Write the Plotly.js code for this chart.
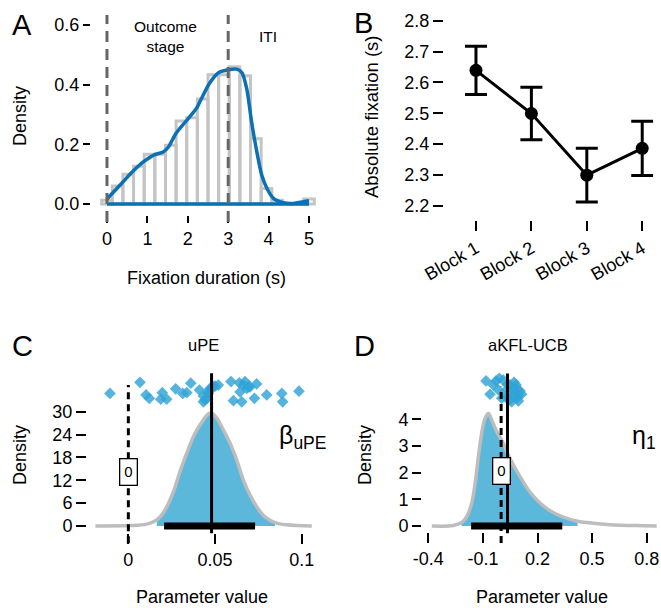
<!DOCTYPE html>
<html><head><meta charset="utf-8">
<script src="https://cdn.plot.ly/plotly-3.0.1.min.js"></script>
<style>html,body{margin:0;padding:0;background:#fff}#chart{width:661px;height:608px}</style>
</head><body><div id="chart"></div>
<script>
// ---------- Panel A data ----------
var histBinWidth = 5 / 19;
var histCenters = [0, 0.263, 0.526, 0.789, 1.053, 1.316, 1.579, 1.842, 2.105, 2.368, 2.632, 2.895, 3.158, 3.421, 3.684, 3.947, 4.211, 4.474, 4.737, 5];
var histDensity = [0.013, 0.06, 0.10, 0.127, 0.167, 0.167, 0.197, 0.278, 0.289, 0.352, 0.433, 0.433, 0.46, 0.43, 0.219, 0.052, 0.013, 0.0, 0.0, 0.017];
var kdeX = [0, 0.36, 0.63, 0.9, 1.17, 1.39, 1.52, 1.70, 1.97, 2.22, 2.31, 2.55, 2.76, 3.0, 3.21, 3.34, 3.46, 3.58, 3.71, 3.83, 3.96, 4.12, 4.37, 4.62, 4.86, 5.0];
var kdeY = [0.017, 0.069, 0.108, 0.141, 0.165, 0.174, 0.191, 0.235, 0.28, 0.322, 0.346, 0.407, 0.44, 0.45, 0.452, 0.44, 0.385, 0.274, 0.174, 0.097, 0.052, 0.019, 0.004, 0.002, 0.008, 0.011];
var stageBounds = [0, 3];
var xTicksA = [0, 1, 2, 3, 4, 5];
var yTicksA = [0, 0.2, 0.4, 0.6];

// ---------- Panel B data ----------
var blocks = ['Block 1', 'Block 2', 'Block 3', 'Block 4'];
var blockIdx = [1, 2, 3, 4];
var meanFix = [2.639, 2.499, 2.299, 2.386];
var seFix = [0.078, 0.085, 0.087, 0.088];
var yTicksB = [2.2, 2.3, 2.4, 2.5, 2.6, 2.7, 2.8];

// ---------- Panel C data (uPE) ----------
var uDensX = [-0.019, 0.001, 0.0106, 0.0164, 0.0212, 0.026, 0.0298, 0.0337, 0.0375, 0.0413, 0.0461, 0.0481, 0.051, 0.0548, 0.0587, 0.0625, 0.0663, 0.0702, 0.074, 0.0788, 0.0846, 0.0913, 0.1058];
var uDensY = [0, 0.1, 0.5, 1.6, 4.2, 9.0, 14.3, 19.1, 23.4, 26.5, 29.4, 29.6, 28.3, 25.2, 21.7, 17.3, 12.1, 8.1, 5.1, 2.4, 0.9, 0.3, 0];
var uFillRange = [0.0164, 0.0846];
var uHDI = [0.0206, 0.0731];
var uMean = 0.048;
var uSubjX = [-0.0106, 0.0067, 0.0102, 0.0121, 0.0196, 0.0187, 0.0221, 0.0273, 0.0314, 0.0337, 0.036, 0.041, 0.0433, 0.0452, 0.0461, 0.0471, 0.05, 0.0519, 0.0592, 0.0606, 0.064, 0.0644, 0.0654, 0.0673, 0.0692, 0.0683, 0.0727, 0.074, 0.0798, 0.0885, 0.089, 0.0984, 0.0433, 0.046, 0.0477, 0.0489, 0.0442, 0.0663, 0.0702];
var uSubjY = [34.8, 37.7, 34.4, 33.5, 35.0, 33.3, 33.3, 36.0, 34.8, 35.0, 37.5, 35.7, 32.6, 33.5, 34.8, 36.1, 36.7, 37.0, 37.9, 32.9, 37.6, 35.2, 32.6, 37.9, 36.6, 36.1, 33.5, 37.3, 34.4, 34.8, 32.6, 35.4, 34.1, 35.2, 36.0, 36.6, 33.1, 37.0, 36.5];
var xTicksC = [0, 0.05, 0.1];
var xTickTextC = ['0', '0.05', '0.1'];
var yTicksC = [0, 6, 12, 18, 24, 30];

// ---------- Panel D data (aKFL-UCB, eta1) ----------
var eDensX = [-0.381, -0.263, -0.217, -0.189, -0.162, -0.143, -0.125, -0.107, -0.088, -0.070, -0.052, -0.024, 0.012, 0.040, 0.067, 0.104, 0.150, 0.196, 0.25, 0.305, 0.379, 0.42, 0.47, 0.598, 0.78, 0.855];
var eDensY = [0, 0.02, 0.13, 0.35, 0.85, 1.6, 2.6, 3.48, 4.04, 4.22, 3.98, 3.54, 3.1, 2.66, 2.29, 1.85, 1.35, 0.98, 0.66, 0.44, 0.25, 0.18, 0.13, 0.05, 0.01, 0];
var eFillRange = [-0.217, 0.42];
var eHDI = [-0.165, 0.336];
var eMean = 0.035;
var eSubjX = [-0.083, -0.028, -0.061, -0.015, 0.012, 0.003, 0.049, 0.067, 0.076, 0.095, 0.104, 0.086, 0.058, 0.031, 0.021, 0.067, 0.049, 0.082, 0.071, -0.043, -0.01, 0.034, 0.089, 0.113, 0.095, 0.042];
var eSubjY = [5.44, 5.44, 4.94, 5.1, 5.47, 4.79, 5.29, 5.16, 4.98, 4.89, 5.06, 4.79, 4.66, 4.85, 5.04, 4.85, 5.04, 5.29, 5.39, 5.29, 5.54, 5.31, 5.14, 4.94, 4.69, 4.72];
var xTicksD = [-0.4, -0.1, 0.2, 0.5, 0.8];
var xTickTextD = ['-0.4', '-0.1', '0.2', '0.5', '0.8'];
var yTicksD = [0, 1, 2, 3, 4];

// ---------- helpers ----------
var W = 661, H = 608;
function px(x) { return x / W; }
function py(y) { return 1 - y / H; }
var FONT = 'Liberation Sans, Arial, Helvetica, sans-serif';
function filt(xs, ys, r) {
  var ox = [], oy = [];
  for (var i = 0; i < xs.length; i++) { if (xs[i] >= r[0] && xs[i] <= r[1]) { ox.push(xs[i]); oy.push(ys[i]); } }
  return {x: ox, y: oy};
}
var uFill = filt(uDensX, uDensY, uFillRange);
var eFill = filt(eDensX, eDensY, eFillRange);

var BLUE = '#0a71b5', FILL = '#5cb8db', OUT = '#bdbdbd', PT = 'rgba(48,163,214,0.82)';

var traces = [
  // A
  {type: 'bar', x: histCenters, y: histDensity, width: histBinWidth, xaxis: 'x', yaxis: 'y',
   marker: {color: 'rgba(0,0,0,0)', line: {color: '#c4c4c4', width: 3}}, hoverinfo: 'skip'},
  {type: 'scatter', mode: 'lines', x: [kdeX[0], kdeX[kdeX.length - 1]], y: [0, 0], xaxis: 'x', yaxis: 'y',
   line: {color: BLUE, width: 3.5}},
  {type: 'scatter', mode: 'lines', x: kdeX, y: kdeY, xaxis: 'x', yaxis: 'y',
   line: {color: BLUE, width: 3.5, shape: 'spline', smoothing: 0.8}},
  // B
  {type: 'scatter', mode: 'lines+markers', x: blockIdx, y: meanFix, xaxis: 'x2', yaxis: 'y2',
   line: {color: '#000', width: 3}, marker: {color: '#000', size: 13},
   error_y: {type: 'data', array: seFix, visible: true, color: '#000', thickness: 3, width: 11}},
  // C
  {type: 'scatter', mode: 'lines', x: uFill.x, y: uFill.y, fill: 'tozeroy', fillcolor: FILL,
   line: {width: 0, color: FILL, shape: 'spline'}, xaxis: 'x3', yaxis: 'y3'},
  {type: 'scatter', mode: 'lines', x: uDensX, y: uDensY, xaxis: 'x3', yaxis: 'y3',
   line: {color: OUT, width: 3.5, shape: 'spline'}},
  {type: 'scatter', mode: 'lines', x: uHDI, y: [0, 0], xaxis: 'x3', yaxis: 'y3',
   line: {color: '#000', width: 7}},
  {type: 'scatter', mode: 'markers', x: uSubjX, y: uSubjY, xaxis: 'x3', yaxis: 'y3',
   marker: {symbol: 'diamond', size: 9, color: PT, line: {width: 0}}},
  // D
  {type: 'scatter', mode: 'lines', x: eFill.x, y: eFill.y, fill: 'tozeroy', fillcolor: FILL,
   line: {width: 0, color: FILL, shape: 'spline'}, xaxis: 'x4', yaxis: 'y4'},
  {type: 'scatter', mode: 'lines', x: eDensX, y: eDensY, xaxis: 'x4', yaxis: 'y4',
   line: {color: OUT, width: 3.5, shape: 'spline'}},
  {type: 'scatter', mode: 'lines', x: eHDI, y: [0, 0], xaxis: 'x4', yaxis: 'y4',
   line: {color: '#000', width: 7}},
  {type: 'scatter', mode: 'markers', x: eSubjX, y: eSubjY, xaxis: 'x4', yaxis: 'y4',
   marker: {symbol: 'diamond', size: 9, color: PT, line: {width: 0}}}
];

function axBase(extra) {
  var a = {showgrid: false, zeroline: false, showline: false, ticks: 'outside', tickcolor: '#000',
           tickwidth: 2, tickfont: {family: FONT, size: 18, color: '#000'}, anchor: 'free', fixedrange: true};
  for (var k in extra) a[k] = extra[k];
  return a;
}

var shapes = [];
stageBounds.forEach(function (b) {
  shapes.push({type: 'line', xref: 'x', yref: 'y', x0: b, x1: b, y0: -0.06, y1: 0.634,
    line: {color: '#666666', width: 3, dash: '11px,7px'}, layer: 'above'});
});
shapes.push({type: 'line', xref: 'x3', yref: 'y3', x0: 0, x1: 0, y0: -4.5, y1: 37,
  line: {color: '#000', width: 3, dash: '7px,5px'}, layer: 'above'});
shapes.push({type: 'line', xref: 'x3', yref: 'y3', x0: uMean, x1: uMean, y0: -1.9, y1: 40.1,
  line: {color: '#000', width: 3}, layer: 'above'});
shapes.push({type: 'line', xref: 'x4', yref: 'y4', x0: 0, x1: 0, y0: -0.64, y1: 5.22,
  line: {color: '#000', width: 3, dash: '7px,5px'}, layer: 'above'});
shapes.push({type: 'line', xref: 'x4', yref: 'y4', x0: eMean, x1: eMean, y0: -0.27, y1: 5.72,
  line: {color: '#000', width: 3}, layer: 'above'});

function ann(text, x, y, size, extra) {
  var a = {text: text, x: px(x), y: py(y), xref: 'paper', yref: 'paper', showarrow: false,
           xanchor: 'center', yanchor: 'middle', font: {family: FONT, size: size, color: '#000'}};
  for (var k in extra) a[k] = extra[k];
  return a;
}

var annotations = [
  ann('A', 22, 25, 29), ann('B', 363, 23, 29), ann('C', 22, 346, 29), ann('D', 365, 346, 29),
  ann('Outcome<br>stage', 165, 36, 15.5),
  ann('ITI', 268, 36, 15.5),
  ann('Density', 20, 116, 18, {textangle: -90}),
  ann('Fixation duration (s)', 206, 278, 18),
  ann('Absolute fixation (s)', 371, 117, 18.5, {textangle: -90}),
  ann('uPE', 203, 345, 16.5),
  ann('aKFL-UCB', 528, 345, 16.5),
  ann('Density', 20, 455, 18, {textangle: -90}),
  ann('Density', 365, 455, 18, {textangle: -90}),
  ann('Parameter value', 202, 597, 18),
  ann('Parameter value', 542, 597, 18),
  ann('β<sub>uPE</sub>', 302, 437, 25),
  ann('η<sub>1</sub>', 644, 437, 25),
  {text: '0', x: 0, y: 14.3, xref: 'x3', yref: 'y3', showarrow: false, bgcolor: '#fff',
   bordercolor: '#000', borderwidth: 1.3, borderpad: 4, font: {family: FONT, size: 15, color: '#000'}},
  {text: '0', x: 0, y: 2.06, xref: 'x4', yref: 'y4', showarrow: false, bgcolor: '#fff',
   bordercolor: '#000', borderwidth: 1.3, borderpad: 4, font: {family: FONT, size: 15, color: '#000'}}
];

var layout = {
  width: W, height: H, margin: {l: 0, r: 0, t: 0, b: 0}, showlegend: false,
  paper_bgcolor: '#fff', plot_bgcolor: 'rgba(0,0,0,0)', font: {family: FONT, color: '#000'},
  xaxis: axBase({domain: [px(98.9), px(317.1)], range: [-0.2, 5.2], position: py(215), ticklen: 7,
                 tickvals: xTicksA}),
  yaxis: axBase({domain: [py(223.4), py(13.1)], range: [-0.065, 0.64], position: px(90), ticklen: 7,
                 tickvals: yTicksA, tickformat: '.1f'}),
  xaxis2: axBase({domain: [px(464.9), px(653.3)], range: [0.8, 4.2], position: py(220), ticklen: 10,
                  tickvals: blockIdx, ticktext: blocks, tickangle: -30}),
  yaxis2: axBase({domain: [py(211.9), py(14.5)], range: [2.18, 2.82], position: px(443), ticklen: 10,
                  tickvals: yTicksB, tickformat: '.1f'}),
  xaxis3: axBase({domain: [px(90.2), px(315.6)], range: [-0.022, 0.108], position: py(533), ticklen: 10,
                  tickvals: xTicksC, ticktext: xTickTextC}),
  yaxis3: axBase({domain: [py(545.05), py(369.8)], range: [-5, 41], position: px(86), ticklen: 10,
                  tickvals: yTicksC}),
  xaxis4: axBase({domain: [px(424.7), px(657.6)], range: [-0.42, 0.86], position: py(532), ticklen: 10,
                  tickvals: xTicksD, ticktext: xTickTextD}),
  yaxis4: axBase({domain: [py(544.7), py(370)], range: [-0.7, 5.85], position: px(421), ticklen: 9,
                  tickvals: yTicksD}),
  shapes: shapes,
  annotations: annotations
};

Plotly.newPlot('chart', traces, layout, {displayModeBar: false, staticPlot: true});
</script></body></html>
